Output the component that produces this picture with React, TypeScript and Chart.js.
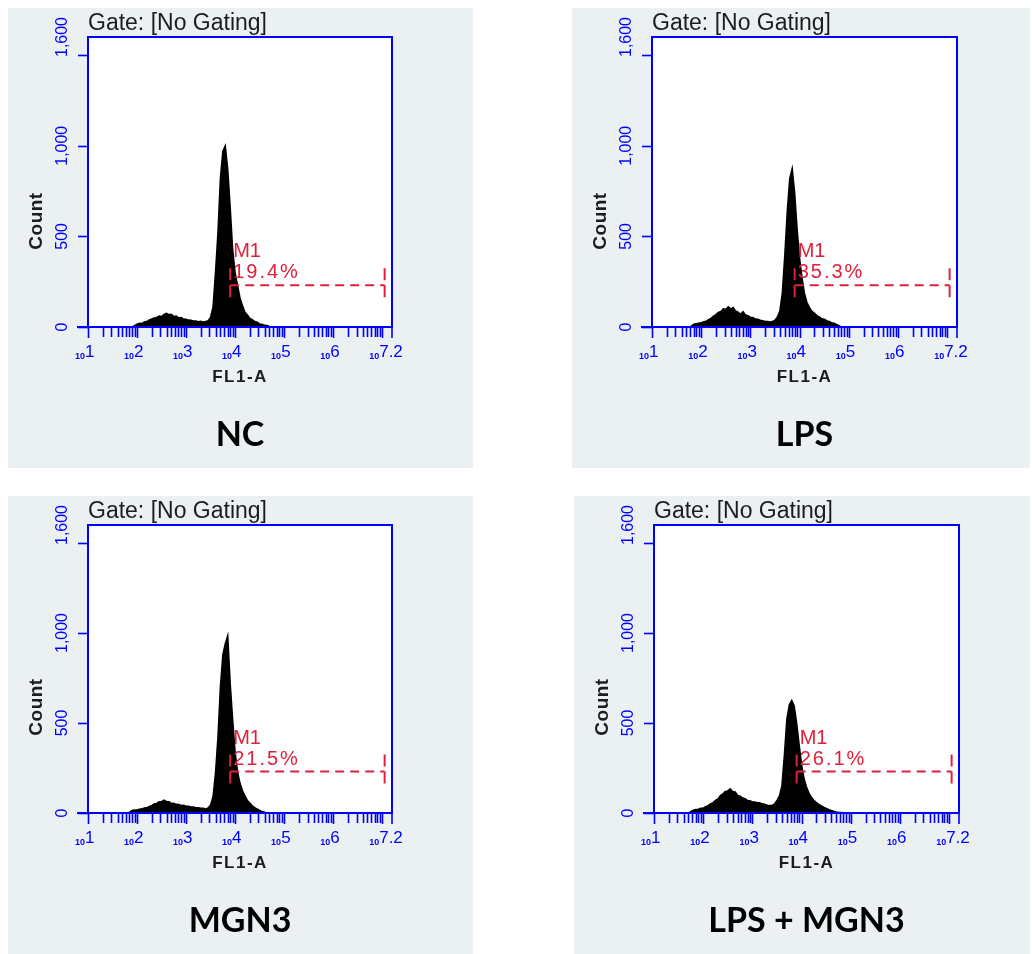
import React, { useEffect, useRef } from 'react';
import { Chart, registerables } from 'chart.js';

Chart.register(...registerables);

// FL1-A channel centres, in log10 units
const LOG_CHANNELS = [
  1.70, 1.75, 1.80, 1.85, 1.90, 1.95, 2.00, 2.05, 2.10, 2.15,
  2.20, 2.25, 2.30, 2.35, 2.40, 2.45, 2.50, 2.55, 2.60, 2.65,
  2.70, 2.75, 2.80, 2.85, 2.90, 2.95, 3.00, 3.05, 3.10, 3.15,
  3.20, 3.25, 3.30, 3.35, 3.40, 3.45, 3.50, 3.55, 3.60, 3.65,
  3.70, 3.75, 3.80, 3.85, 3.90, 3.95, 4.00, 4.05, 4.10, 4.15,
  4.20, 4.25, 4.30, 4.35, 4.40, 4.45, 4.50, 4.55, 4.60, 4.65,
  4.70, 4.75, 4.80, 4.85, 4.90, 4.95, 5.00,
];

// Event counts per channel for each sample
const NC_COUNTS = [
  0, 0, 0, 0, 0, 8, 16, 21, 20, 28,
  30, 39, 44, 50, 53, 60, 58, 70, 75, 68,
  70, 58, 60, 50, 52, 44, 43, 38, 37, 33,
  33, 29, 31, 27, 30, 34, 55, 110, 300, 520,
  820, 970, 1000, 870, 660, 430, 300, 230, 160, 118,
  82, 66, 48, 41, 30, 26, 17, 15, 9, 8,
  3, 0, 0, 0, 0, 0, 0,
];
const LPS_COUNTS = [
  0, 0, 5, 15, 18, 21, 23, 29, 32, 41,
  48, 60, 68, 80, 86, 100, 98, 112, 100, 108,
  88, 82, 70, 84, 66, 62, 53, 52, 44, 43,
  37, 35, 31, 31, 27, 30, 38, 55, 90, 190,
  400, 640, 820, 875, 740, 540, 380, 270, 185, 135,
  108, 86, 77, 63, 56, 46, 43, 35, 31, 24,
  21, 14, 8, 0, 0, 0, 0,
];
const MGN3_COUNTS = [
  0, 0, 0, 5, 14, 17, 17, 21, 23, 28,
  29, 37, 41, 50, 53, 62, 63, 71, 64, 63,
  53, 54, 48, 47, 42, 43, 38, 37, 33, 33,
  29, 29, 27, 26, 23, 28, 45, 90, 220, 420,
  700, 880, 940, 985, 720, 520, 340, 230, 165, 125,
  95, 70, 55, 40, 30, 22, 15, 8, 4, 0,
  0, 0, 0, 0, 0, 0, 0,
];
const LPS_MGN3_COUNTS = [
  0, 8, 15, 19, 21, 26, 27, 35, 41, 51,
  57, 70, 78, 97, 106, 120, 123, 134, 120, 117,
  98, 94, 83, 80, 70, 68, 61, 61, 57, 57,
  51, 49, 43, 41, 42, 50, 70, 95, 150, 320,
  520, 600, 625, 595, 500, 380, 270, 190, 145, 110,
  88, 70, 58, 48, 40, 32, 26, 20, 14, 10,
  6, 4, 3, 2, 2, 0, 0,
];

const TITLES = ['NC', 'LPS', 'MGN3', 'LPS + MGN3'];
const M1_PERCENTS = ['19.4%', '35.3%', '21.5%', '26.1%'];

// Axis settings
const X_MIN_LOG = 1;
const X_MAX_LOG = 7.2;
const X_DECADES = [1, 2, 3, 4, 5, 6, 7];
const X_EXPONENT_LABELS = ['1', '2', '3', '4', '5', '6', '7.2'];
const X_MINOR_MULTIPLES = [1, 2, 3, 4, 5, 6, 7, 8, 9];
const Y_MAX = 1600;
const Y_TICK_VALUES = [0, 500, 1000, 1500];
const Y_LABEL_VALUES = [0, 500, 1000, 1600];
const Y_LABEL_TEXT = ['0', '500', '1,000', '1,600'];

// M1 marker region
const M1_START_LOG = 3.9;
const M1_END_LOG = 7.05;
const M1_LEVEL = 230;

const PANEL_BG = '#ebf0f3';
const AXIS_BLUE = '#0000ff';
const MARKER_RED = '#e0203c';
const TEXT_DARK = '#1c1c1c';

type Box = { left: number; top: number; width: number; height: number; pad: { left: number; top: number; right: number; bottom: number } };

const PANELS: { title: string; counts: number[]; pct: string; box: Box }[] = [
  { title: TITLES[0], counts: NC_COUNTS, pct: M1_PERCENTS[0], box: { left: 8, top: 8, width: 465, height: 460, pad: { left: 80, top: 29, right: 81, bottom: 141 } } },
  { title: TITLES[1], counts: LPS_COUNTS, pct: M1_PERCENTS[1], box: { left: 572, top: 8, width: 458, height: 460, pad: { left: 80, top: 29, right: 73, bottom: 141 } } },
  { title: TITLES[2], counts: MGN3_COUNTS, pct: M1_PERCENTS[2], box: { left: 8, top: 496, width: 465, height: 458, pad: { left: 80, top: 29, right: 81, bottom: 141 } } },
  { title: TITLES[3], counts: LPS_MGN3_COUNTS, pct: M1_PERCENTS[3], box: { left: 574, top: 496, width: 456, height: 458, pad: { left: 80, top: 29, right: 71, bottom: 141 } } },
];

function line(ctx: CanvasRenderingContext2D, x1: number, y1: number, x2: number, y2: number) {
  ctx.beginPath();
  ctx.moveTo(x1, y1);
  ctx.lineTo(x2, y2);
  ctx.stroke();
}

// Draws the cytometer-style frame, log ticks, labels, M1 gate and panel title
const facsPanelPlugin = {
  id: 'facsPanel',
  beforeDraw(chart: any) {
    const { ctx, width, height } = chart;
    ctx.save();
    ctx.fillStyle = PANEL_BG;
    ctx.fillRect(0, 0, width, height);
    ctx.restore();
  },
  beforeDatasetsDraw(chart: any) {
    const { ctx, chartArea: a } = chart;
    ctx.save();
    ctx.fillStyle = '#ffffff';
    ctx.fillRect(a.left, a.top, a.right - a.left, a.bottom - a.top);
    ctx.restore();
  },
  afterDatasetsDraw(chart: any, _args: any, opts: any) {
    const { ctx, chartArea: a, scales } = chart;
    const xs = scales.x;
    const ys = scales.y;
    const cx = (a.left + a.right) / 2;
    ctx.save();

    // frame
    ctx.strokeStyle = AXIS_BLUE;
    ctx.lineWidth = 2;
    ctx.strokeRect(a.left, a.top, a.right - a.left, a.bottom - a.top);
    line(ctx, a.left - 11, a.bottom, a.left, a.bottom);

    // y ticks
    ctx.lineWidth = 1.6;
    Y_TICK_VALUES.forEach((v) => {
      const py = Math.round(ys.getPixelForValue(v)) + 0.5;
      line(ctx, a.left - 10, py, a.left, py);
    });

    // x ticks: decades and their minor multiples
    const xMax = Math.pow(10, X_MAX_LOG);
    X_DECADES.forEach((d) => {
      X_MINOR_MULTIPLES.forEach((m) => {
        const v = m * Math.pow(10, d);
        if (v > xMax) return;
        const px = Math.round(xs.getPixelForValue(v)) + 0.5;
        line(ctx, px, a.bottom, px, a.bottom + (m === 1 ? 11 : 10));
      });
    });
    line(ctx, a.right, a.bottom, a.right, a.bottom + 11);

    // y labels, rotated
    ctx.fillStyle = AXIS_BLUE;
    ctx.font = "16px 'Liberation Sans', Arial, sans-serif";
    ctx.textAlign = 'center';
    ctx.textBaseline = 'alphabetic';
    Y_LABEL_VALUES.forEach((v, i) => {
      const py = ys.getPixelForValue(v);
      ctx.save();
      ctx.translate(a.left - 21, py);
      ctx.rotate(-Math.PI / 2);
      ctx.fillText(Y_LABEL_TEXT[i], 0, 0);
      ctx.restore();
    });

    // x labels: small "10" with exponent
    X_DECADES.forEach((d, i) => {
      const px = xs.getPixelForValue(Math.pow(10, d));
      ctx.textAlign = 'right';
      ctx.font = "bold 9px 'Liberation Sans', Arial, sans-serif";
      ctx.fillText('10', px - 3, a.bottom + 32);
      ctx.textAlign = 'left';
      ctx.font = "17px 'Liberation Sans', Arial, sans-serif";
      ctx.fillText(X_EXPONENT_LABELS[i], px - 3, a.bottom + 30);
    });

    // axis titles
    ctx.fillStyle = TEXT_DARK;
    ctx.font = "bold 17px 'Liberation Sans', Arial, sans-serif";
    ctx.textAlign = 'center';
    (ctx as any).letterSpacing = '1.5px';
    ctx.fillText('FL1-A', cx, a.bottom + 55);
    (ctx as any).letterSpacing = '0.5px';
    ctx.save();
    ctx.font = "bold 19px 'Liberation Sans', Arial, sans-serif";
    ctx.translate(a.left - 46, a.bottom - 106);
    ctx.rotate(-Math.PI / 2);
    ctx.fillText('Count', 0, 0);
    ctx.restore();
    (ctx as any).letterSpacing = '0px';

    ctx.textAlign = 'left';
    ctx.font = "23px 'Liberation Sans', Arial, sans-serif";
    ctx.fillText('Gate: [No Gating]', a.left, a.top - 7);

    // M1 gate marker
    const gx1 = xs.getPixelForValue(Math.pow(10, M1_START_LOG));
    const gx2 = xs.getPixelForValue(Math.pow(10, M1_END_LOG));
    const gy = ys.getPixelForValue(M1_LEVEL);
    ctx.strokeStyle = MARKER_RED;
    ctx.lineWidth = 2;
    ctx.setLineDash([9, 6]);
    line(ctx, gx1, gy, gx2, gy);
    ctx.setLineDash([12, 5]);
    line(ctx, gx1, gy - 17, gx1, gy + 15);
    line(ctx, gx2, gy - 17, gx2, gy + 15);
    ctx.setLineDash([]);
    ctx.fillStyle = MARKER_RED;
    ctx.font = "20px 'Liberation Sans', Arial, sans-serif";
    ctx.fillText('M1', gx1 + 3, gy - 28);
    (ctx as any).letterSpacing = '2px';
    ctx.fillText(opts.pct, gx1 + 3, gy - 7);
    (ctx as any).letterSpacing = '0px';

    // sample title
    ctx.fillStyle = '#000000';
    ctx.textAlign = 'center';
    ctx.font = "bold 34px Lato, 'Open Sans', sans-serif";
    ctx.fillText(opts.title, cx, a.bottom + 119);

    ctx.restore();
  },
};

function HistogramPanel({ title, counts, pct, box }: { title: string; counts: number[]; pct: string; box: Box }) {
  const ref = useRef<HTMLCanvasElement | null>(null);

  useEffect(() => {
    if (!ref.current) return;
    const chart = new Chart(ref.current, {
      type: 'line',
      data: {
        datasets: [
          {
            data: LOG_CHANNELS.map((l, i) => ({ x: Math.pow(10, l), y: counts[i] })),
            tension: 0,
            fill: 'origin',
            backgroundColor: '#000000',
            borderColor: '#000000',
            borderWidth: 1.5,
            pointRadius: 0,
          },
        ],
      },
      options: {
        responsive: false,
        animation: false,
        events: [],
        layout: { padding: box.pad },
        plugins: {
          legend: { display: false },
          tooltip: { enabled: false },
          facsPanel: { title, pct },
        } as any,
        scales: {
          x: { type: 'logarithmic', min: Math.pow(10, X_MIN_LOG), max: Math.pow(10, X_MAX_LOG), display: false },
          y: { type: 'linear', min: 0, max: Y_MAX, display: false },
        },
      },
      plugins: [facsPanelPlugin],
    });
    return () => chart.destroy();
  }, [title, counts, pct, box]);

  return (
    <canvas
      ref={ref}
      width={box.width}
      height={box.height}
      style={{ position: 'absolute', left: box.left, top: box.top, width: box.width, height: box.height }}
    />
  );
}

export default function App() {
  return (
    <div style={{ position: 'absolute', left: 0, top: 0, width: 1032, height: 954, background: '#ffffff' }}>
      {PANELS.map((p) => (
        <HistogramPanel key={p.title} title={p.title} counts={p.counts} pct={p.pct} box={p.box} />
      ))}
    </div>
  );
}
